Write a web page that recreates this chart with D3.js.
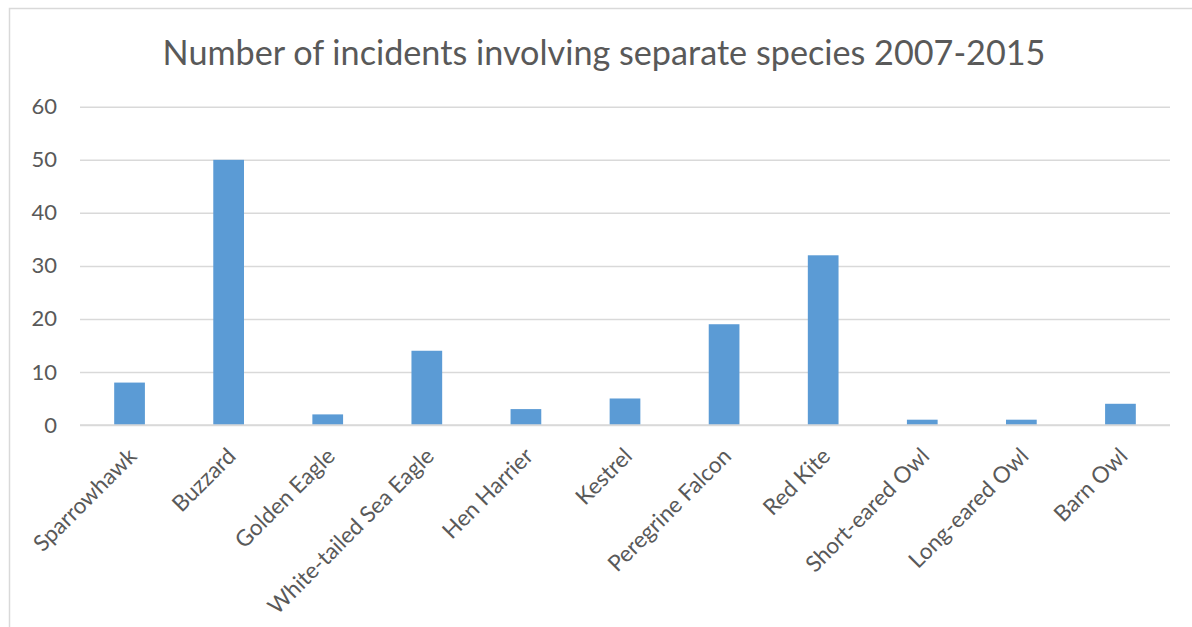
<!DOCTYPE html>
<html><head><meta charset="utf-8">
<script src="https://cdn.jsdelivr.net/npm/d3@7"></script>
<style>body{margin:0;background:#fff}svg{display:block}</style>
</head><body>
<svg id="c" width="1192" height="627"></svg>
<script>
const title = "Number of incidents involving separate species 2007-2015";
const categories = ["Sparrowhawk","Buzzard","Golden Eagle","White-tailed Sea Eagle","Hen Harrier","Kestrel","Peregrine Falcon","Red Kite","Short-eared Owl","Long-eared Owl","Barn Owl"];
const values = [8,50,2,14,3,5,19,32,1,1,4];
const yTicks = [0,10,20,30,40,50,60];

const svg = d3.select("#c");
const font = "Lato, 'Open Sans', sans-serif";
const grey = "#595959";

// chart frame (cropped at right/bottom)
svg.append("rect").attr("x",9.5).attr("y",8.5).attr("width",1300).attr("height",700)
  .attr("fill","#fff").attr("stroke","#d9d9d9").attr("stroke-width",1.5);

const m = {left:80, right:1170, top:106.8, bottom:425};
const x = d3.scaleBand().domain(categories).range([m.left,m.right]).paddingInner(0.69).paddingOuter(0.345);
const y = d3.scaleLinear().domain([0,60]).range([m.bottom,m.top]);

svg.append("text").attr("x",604).attr("y",65).attr("text-anchor","middle")
  .attr("font-family",font).attr("font-size",34.2).attr("fill",grey).text(title);

const yAxis = svg.append("g").attr("transform",`translate(${m.left},0)`)
  .call(d3.axisLeft(y).tickValues(yTicks).tickSize(-(m.right-m.left)).tickPadding(23));
yAxis.select(".domain").remove();
yAxis.selectAll("line").attr("stroke","#d9d9d9").attr("stroke-width",1.5);
yAxis.selectAll("text").attr("font-family",font).attr("font-size",22).attr("fill",grey);

svg.append("g").selectAll("rect").data(values).join("rect")
  .attr("x",(d,i)=>x(categories[i])).attr("width",x.bandwidth())
  .attr("y",d=>y(d)).attr("height",d=>y(0)-y(d)).attr("fill","#5b9bd5");

// baseline over bars
svg.append("line").attr("x1",m.left).attr("x2",m.right).attr("y1",y(0)).attr("y2",y(0))
  .attr("stroke","#d9d9d9").attr("stroke-width",1.5);

const xAxis = svg.append("g").attr("transform",`translate(0,${m.bottom})`)
  .call(d3.axisBottom(x).tickSize(0).tickPadding(0));
xAxis.select(".domain").remove();
xAxis.selectAll("text")
  .attr("font-family",font).attr("font-size",22.5).attr("fill",grey)
  .attr("text-anchor","end").attr("dy","0.35em")
  .attr("transform","translate(3,27) rotate(-45)");
</script>
</body></html>
